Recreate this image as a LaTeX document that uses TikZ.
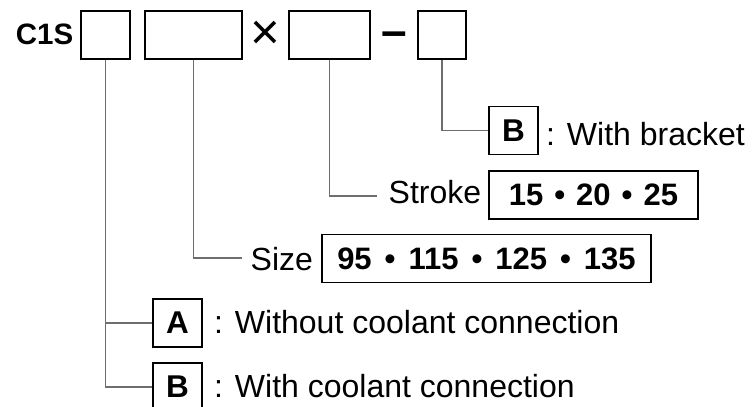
\documentclass[tikz,border=0pt]{standalone}
\usepackage{fontspec}
\setmainfont{Liberation Sans}
\usetikzlibrary{positioning}
\definecolor{Ink}{HTML}{000000}
\definecolor{Wire}{HTML}{6E6E6E}

\begin{document}
\begin{tikzpicture}[x=1pt,y=-1pt,
  slot/.style={draw=Ink,line width=1.6pt,minimum height=48pt,inner sep=0pt},
  code/.style={slot,minimum width=49pt,font=\fontsize{31.5}{36}\selectfont\bfseries},
  vals/.style={slot,font=\fontsize{31}{36}\selectfont\bfseries},
  txt/.style={anchor=base west,inner sep=0pt,font=\fontsize{32}{38}\selectfont},
  wire/.style={draw=Wire,line width=1.4pt}]
\useasboundingbox (0,0) rectangle (753,407);
% model code
\node[anchor=base east,inner sep=0pt,font=\fontsize{29.5}{34}\selectfont\bfseries] (pre) at (73.5,44) {C1S};
\node[slot,minimum width=49pt] (b1) at (105.5,35) {};
\node[slot,minimum width=97pt] (b2) at (193.5,35) {};
\node[anchor=base,inner sep=0pt,font=\fontsize{51}{51}\selectfont] (times) at (265.5,49.5) {×};
\node[slot,minimum width=81pt] (b3) at (329.5,35) {};
\node[anchor=base,inner sep=0pt,font=\fontsize{46}{46}\selectfont\bfseries] (dash) at (394.5,46) {–};
\node[slot,minimum width=48pt] (b4) at (442,35) {};
% bracket
\node[code] (brk) at (513.5,130.5) {B};
\node[txt] (brklbl) at (546,145) {: With bracket};
% stroke
\coordinate (strokeend) at (377,196);
\node[txt] (strokelbl) at (388.5,203) {Stroke};
\node[vals,minimum width=209pt] (stroke) at (593.5,195) {15\hspace{11pt}•\hspace{11pt}20\hspace{11pt}•\hspace{11pt}25};
% size
\coordinate (sizeend) at (242,258);
\node[txt] (sizelbl) at (250.5,270) {Size};
\node[vals,minimum width=329pt] (size) at (486.5,258.5) {95\hspace{13pt}•\hspace{13pt}115\hspace{13pt}•\hspace{13pt}125\hspace{13pt}•\hspace{13pt}135\hspace{9pt}};
% coolant
\node[code] (cA) at (177.5,323) {A};
\node[txt] (cAlbl) at (214,333) {: Without coolant connection};
\node[code] (cB) at (177.5,387) {B};
\node[txt] (cBlbl) at (214,397) {: With coolant connection};
% wires
\draw[wire] (b1.south) |- (cA.west);
\draw[wire] (b1.south) |- (cB.west);
\draw[wire] (b2.south) |- (sizeend);
\draw[wire] (b3.south) |- (strokeend);
\draw[wire] (b4.south) |- (brk.west);
\end{tikzpicture}
\end{document}
